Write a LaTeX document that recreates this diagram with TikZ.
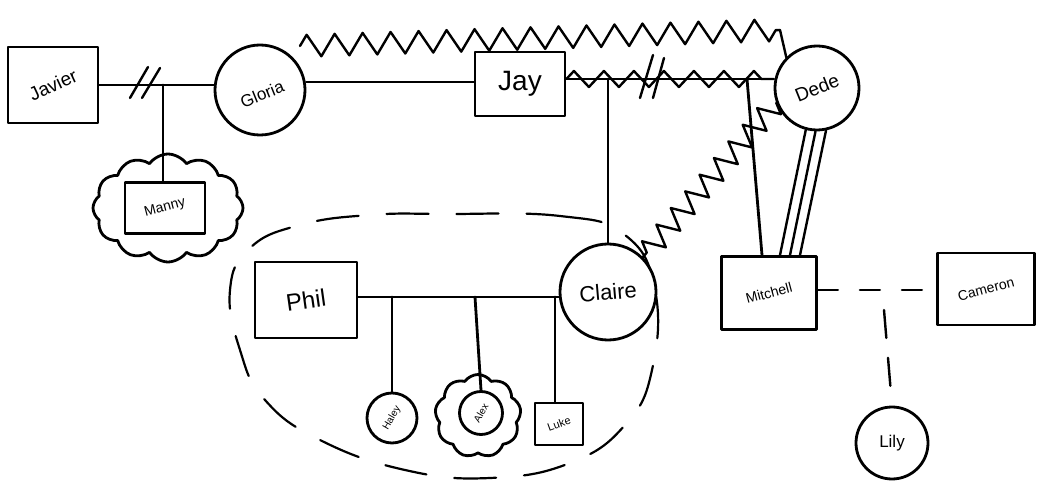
\documentclass[tikz,border=0pt]{standalone}
\usepackage{fontspec}
\setmainfont{Liberation Sans}
\usetikzlibrary{decorations.pathmorphing,shapes.symbols,shapes.geometric}
\begin{document}
\begin{tikzpicture}[x=1pt,y=-1pt,
  ink/.style={line width=2.8pt,line join=round,line cap=round},
  person/.style={ink,draw,rectangle,inner sep=0pt},
  woman/.style={ink,draw,circle,inner sep=0pt},
  lnk/.style={ink},
  conflict/.style={ink,line width=2.4pt,decorate,decoration={zigzag,segment length=28pt,amplitude=10pt}},
  cut/.style={ink,line width=2.4pt},
  dashlink/.style={ink,line width=2.4pt,dash pattern=on 20pt off 22pt},
  txt/.style={inner sep=0pt}]
\useasboundingbox (0,0) rectangle (1037,481);

% dashed household boundary
\draw[ink,line width=2.2pt,dash pattern=on 42pt off 28pt]
  plot[smooth cycle,tension=0.75] coordinates {(445,214) (560,216) (625,235) (655,290) (652,370) (625,425) (570,463) (490,478) (405,470) (320,440) (265,400) (240,350) (230,290) (250,248) (300,225) (370,215)};

% people
\node[person,minimum width=90pt,minimum height=76pt] (javier) at (53,85) {};
\node[txt,rotate=25,font=\fontsize{19}{19}\selectfont] (javierT) at (javier) {Javier};
\node[woman,minimum size=90pt] (gloria) at (260,90) {};
\node[txt,rotate=22,font=\fontsize{17}{17}\selectfont] (gloriaT) at (262,94) {Gloria};
\node[person,minimum width=90pt,minimum height=64pt] (jay) at (520,84) {};
\node[txt,font=\fontsize{28}{28}\selectfont] (jayT) at (jay) {Jay};
\node[woman,minimum size=84pt] (dede) at (817,88) {};
\node[txt,rotate=22,font=\fontsize{19}{19}\selectfont] (dedeT) at (dede) {Dede};
\node[person,minimum width=80pt,minimum height=51pt] (manny) at (165,208) {};
\node[txt,rotate=15,font=\fontsize{14}{14}\selectfont] (mannyT) at (manny) {Manny};
\node[person,minimum width=102pt,minimum height=76pt] (phil) at (306,300) {};
\node[txt,rotate=8,font=\fontsize{24}{24}\selectfont] (philT) at (phil) {Phil};
\node[woman,minimum size=96pt] (claire) at (608,292) {};
\node[txt,rotate=5,font=\fontsize{22}{22}\selectfont] (claireT) at (claire) {Claire};
\node[woman,minimum size=50pt] (haley) at (392,418) {};
\node[txt,rotate=60,font=\fontsize{10}{10}\selectfont] (haleyT) at (haley) {Haley};
\node[woman,minimum size=43pt] (alex) at (481,413) {};
\node[txt,rotate=60,font=\fontsize{10}{10}\selectfont] (alexT) at (alex) {Alex};
\node[person,minimum width=48pt,minimum height=42pt] (luke) at (559,424) {};
\node[txt,rotate=20,font=\fontsize{11}{11}\selectfont] (lukeT) at (luke) {Luke};
\node[person,minimum width=95pt,minimum height=73pt] (mitchell) at (769,293) {};
\node[txt,rotate=15,font=\fontsize{14}{14}\selectfont] (mitchellT) at (mitchell) {Mitchell};
\node[person,minimum width=97pt,minimum height=72pt] (cameron) at (986,289) {};
\node[txt,rotate=15,font=\fontsize{14}{14}\selectfont] (cameronT) at (cameron) {Cameron};
\node[woman,minimum size=72pt] (lily) at (892,443) {};
\node[txt,font=\fontsize{17}{17}\selectfont] (lilyT) at (lily) {Lily};

% clouds
\node[ink,draw,cloud,cloud puffs=12,cloud puff arc=110,minimum width=150pt,minimum height=108pt] (mannyCloud) at (168,208) {};
\node[ink,draw,cloud,cloud puffs=9,cloud puff arc=110,minimum width=86pt,minimum height=83pt] (alexCloud) at (478,416) {};

% Javier - Gloria (divorced)
\coordinate (jgM) at (163,85);
\draw[lnk] (javier.east |- jgM) -- (gloria.west |- jgM);
\draw[cut] (130,98) -- (148,67);
\draw[cut] (142,98) -- (160,68);
\draw[lnk] (jgM) -- (manny.north -| jgM);

% Gloria - Jay
\draw[lnk] (gloria.east |- 0,82) -- (jay.west |- 0,82);

% conflict Gloria - Dede
\coordinate (gzA) at (300,46);
\coordinate (gzB) at (780,30);
\draw[conflict,decoration={zigzag,segment length=28pt,amplitude=11pt}] (gzA) -- (gzB);
\draw[ink,line width=2.4pt] (gzB) -- (dede.north west);

% Jay - Dede (divorced, conflict)
\coordinate (jdC) at (608,79);
\coordinate (jdM) at (747,79);
\draw[lnk] (jay.east |- jdC) -- (dede.west |- jdC);
\draw[conflict,decoration={zigzag,segment length=30pt,amplitude=8pt}] (jay.east |- jdC) -- (dede.west |- jdC);
\draw[cut] (640,98) -- (653,55);
\draw[cut] (653,98) -- (664,58);
\draw[lnk] (jdC) -- (claire.north);
\draw[lnk] (jdM) -- (mitchell.north west -| 762,0);

% Dede - Claire conflict
\draw[conflict,decoration={zigzag,segment length=22pt,amplitude=11pt}] (dede.200) -- (claire.north east);

% Dede - Mitchell fused
\draw[ink,line width=2.4pt] (dede.255) -- (mitchell.north -| 780,0);
\draw[ink,line width=2.4pt] (dede.268) -- (mitchell.north -| 790,0);
\draw[ink,line width=2.4pt] (dede.282) -- (mitchell.north -| 800,0);

% Phil - Claire
\coordinate (pcA) at (392,297);
\coordinate (pcB) at (475,297);
\coordinate (pcC) at (555,297);
\draw[lnk] (phil.east |- pcA) -- (claire.west |- pcA);
\draw[lnk] (pcA) -- (haley.north);
\draw[lnk] (pcB) -- (alex.north);
\draw[lnk] (pcC) -- (luke.north -| pcC);

% Mitchell - Cameron
\coordinate (mcM) at (884,290);
\draw[dashlink] (mitchell.east |- mcM) -- (cameron.west |- mcM);
\draw[dashlink,dash pattern=on 28pt off 20pt] (884,310) -- (lily.north);
\end{tikzpicture}
\end{document}
